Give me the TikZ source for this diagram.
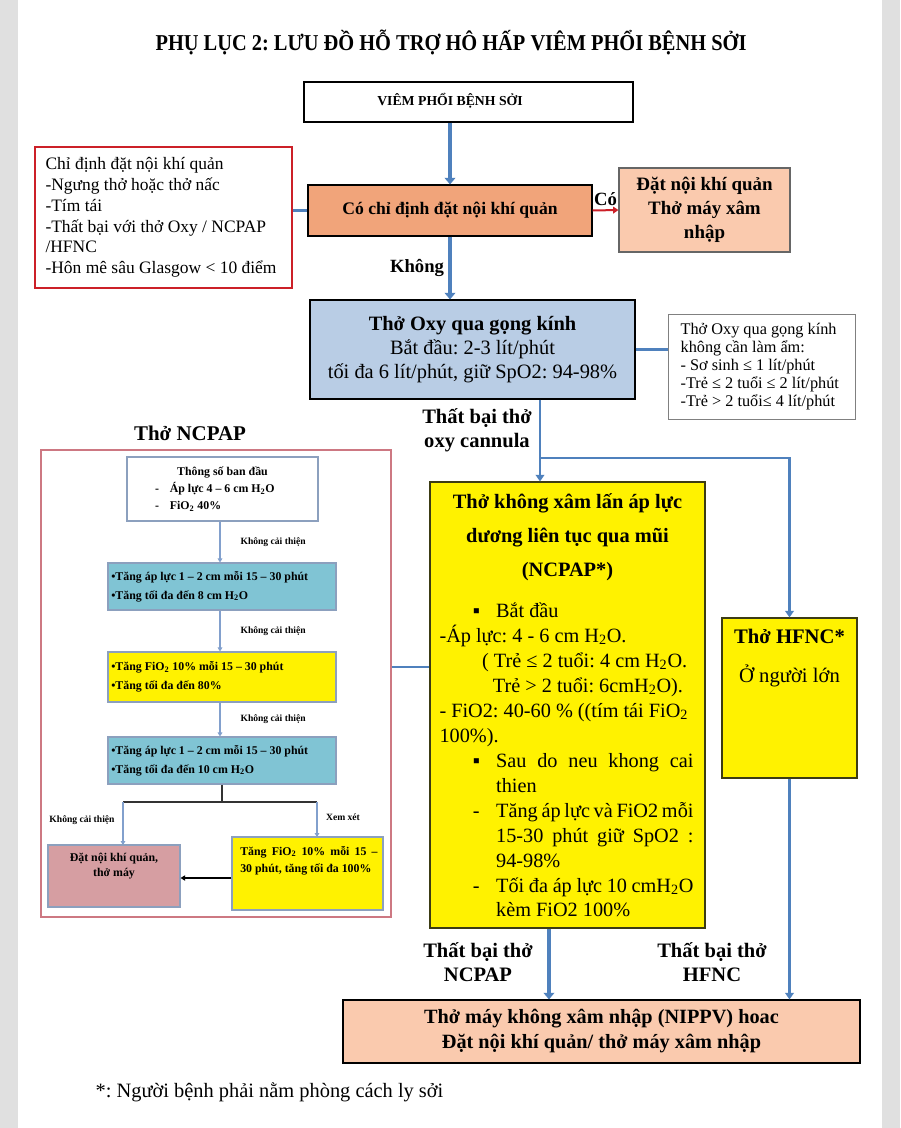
\documentclass[tikz,border=0pt]{standalone}
\usepackage{fontspec}
\usepackage{graphicx}
\setmainfont{Liberation Serif}
\usetikzlibrary{arrows.meta,positioning}
\definecolor{flowBlue}{RGB}{79,129,189}
\definecolor{tinyBlue}{RGB}{130,160,205}
\definecolor{boxOrange}{RGB}{241,164,122}
\definecolor{boxPeach}{RGB}{250,202,174}
\definecolor{boxSky}{RGB}{185,205,229}
\definecolor{boxTeal}{RGB}{128,196,212}
\definecolor{boxPink}{RGB}{214,158,162}
\definecolor{edgeRed}{RGB}{204,32,40}
\definecolor{edgeRose}{RGB}{205,120,130}
\definecolor{edgeSlate}{RGB}{140,160,190}
\definecolor{edgeOlive}{RGB}{60,60,20}
\definecolor{pageGray}{RGB}{224,224,224}
\newcommand{\fs}[2]{\fontsize{#1}{#2}\selectfont}
\newcommand{\subtxt}[1]{\textsubscript{#1}}
\newcommand{\fillline}[2]{\makebox[#1][s]{\spaceskip=0pt\xspaceskip=0pt\relax #2}}

\begin{document}
\frenchspacing
\begin{tikzpicture}[x=0.75pt,y=-0.75pt,
  font=\fs{13}{18},
  execute at begin node={\spaceskip=0pt\xspaceskip=0pt\relax},
  box/.style={draw=black,line width=0.8pt,inner sep=2pt,align=center},
  sbox/.style={draw=edgeSlate,line width=0.8pt,inner sep=2pt,align=left,font=\bfseries\fs{8.9}{14}},
  lbl/.style={font=\bfseries\fs{15.4}{18},text=black,align=center,inner sep=1pt},
  tiny/.style={font=\bfseries\fs{7.2}{8},text=black,inner sep=1pt},
  thickflow/.style={flowBlue,line width=3pt,-{Triangle[length=5pt,width=8pt]}},
  thinflow/.style={flowBlue,line width=1.8pt,-{Triangle[length=5pt,width=6.5pt]}},
  tinyflow/.style={tinyBlue,line width=0.8pt,-{Triangle[length=3pt,width=3.5pt]}},
]
\useasboundingbox (0,0) rectangle (900,1128);
\fill[pageGray] (0,0) rectangle (900,1128);
\fill[white] (18,0) rectangle (882,1128);

% title
\node[font=\bfseries\fs{17}{19}] (title) at (451,42) {\scalebox{0.9}[1]{PHỤ LỤC 2: LƯU ĐỒ HỖ TRỢ HÔ HẤP VIÊM PHỔI BỆNH SỞI}};

% top of the flow
\node[box,fill=white,minimum width=246.75pt,minimum height=30pt] (viem) at (468.5,102) {};
\node[font=\bfseries\fs{10.3}{11}] (viemtxt) at (450,101) {VIÊM PHỔI BỆNH SỞI};
\node[box,fill=boxOrange,minimum width=213pt,minimum height=38.25pt,font=\bfseries\fs{13.2}{15}] (chidinh) at (450,210.5) {Có chỉ định đặt nội khí quản};
\node[box,draw=black!60,fill=boxPeach,minimum width=128.25pt,minimum height=63pt,font=\bfseries\fs{14.2}{18}] (dnkq) at (704.5,210) {Đặt nội khí quản\\Thở máy xâm\\nhập};
\node[box,draw=edgeRed,line width=1.3pt,minimum width=192.75pt,minimum height=105.75pt,text width=177pt,align=left,font=\fs{13.1}{15.6}] (dieukien) at (163.5,217.5)
  {Chỉ định đặt nội khí quản\\-Ngưng thở hoặc thở nấc\\-Tím tái\\-Thất bại với thở Oxy / NCPAP\\/HFNC\\-Hôn mê sâu Glasgow < 10 điểm};

\draw[thickflow] (chidinh.north |- viem.south) -- (chidinh.north);
\draw[edgeRed,line width=1.5pt,-{Triangle[length=4pt,width=5pt]}] (chidinh.east) -- (dnkq.west) node[lbl,font=\bfseries\fs{14}{16},midway,above=2pt] (co) {Có};
\draw[flowBlue,line width=2.5pt] (dieukien.east |- chidinh.west) -- (chidinh.west);

% oxy
\node[box,fill=boxSky,minimum width=243.75pt,minimum height=74.25pt,font=\fs{15.3}{18}] (oxy) at (472.5,349.5)
  {\textbf{Thở Oxy qua gọng kính}\\Bắt đầu: 2-3 lít/phút\\tối đa 6 lít/phút, giữ SpO2: 94-98\%};
\draw[thickflow] (chidinh.south) -- (chidinh.south |- oxy.north) node[lbl,font=\bfseries\fs{14}{18},pos=0.5,left=2pt] (khong) {Không};
\node[box,draw=black!50,line width=0.6pt,minimum width=140.25pt,minimum height=78.75pt,text width=122pt,align=left,font=\fs{12.2}{13.5}] (khongam) at (762,367)
  {Thở Oxy qua gọng kính\\không cần làm ẩm:\\- Sơ sinh ≤ 1 lít/phút\\-Trẻ ≤ 2 tuổi ≤ 2 lít/phút\\-Trẻ > 2 tuổi≤ 4 lít/phút};
\draw[flowBlue,line width=2pt] (oxy.east) -- (oxy.east -| khongam.west);

% NCPAP and HFNC
\coordinate (tach) at (540,458);
\node[box,draw=edgeOlive,fill=yellow,minimum width=206.25pt,minimum height=334.5pt] (ncpap) at (567.5,705) {};
\node[anchor=north,text width=192pt,inner sep=0pt,align=left] (ncpaptxt) at (567.5,493) {%
  {\centering\bfseries\fs{15.3}{25.5}Thở không xâm lấn áp lực\\dương liên tục qua mũi\\(NCPAP*)\par}%
  \vspace{12pt}\fs{15.2}{18.75}%
  \hspace*{25pt}\makebox[17.5pt][l]{▪}Bắt đầu\\
  -Áp lực: 4 - 6 cm H\subtxt{2}O.\\
  \hspace*{32pt}( Trẻ ≤ 2 tuổi: 4 cm H\subtxt{2}O.\\
  \hspace*{40pt}Trẻ > 2 tuổi: 6cmH\subtxt{2}O).\\
  - FiO2: 40-60 \% ((tím tái FiO\subtxt{2}\\
  100\%).\\
  \hspace*{25pt}\makebox[17.5pt][l]{▪}\fillline{148pt}{Sau do neu khong cai}\\
  \hspace*{42.5pt}thien\\
  \hspace*{25pt}\makebox[17.5pt][l]{-}\fillline{148pt}{Tăng áp lực và FiO2 mỗi}\\
  \hspace*{42.5pt}\fillline{148pt}{15-30 phút giữ SpO2 :}\\
  \hspace*{42.5pt}94-98\%\\
  \hspace*{25pt}\makebox[17.5pt][l]{-}\fillline{148pt}{Tối đa áp lực 10 cmH\subtxt{2}O}\\
  \hspace*{42.5pt}kèm FiO2 100\%};
\node[box,draw=edgeOlive,fill=yellow,minimum width=101.25pt,minimum height=120pt] (hfnc) at (789.5,698) {};
\node[anchor=north,align=center,font=\fs{15.5}{29.25},inner sep=0pt] (hfnctxt) at (789.5,629) {\textbf{Thở HFNC*}\\Ở người lớn};

\draw[flowBlue,line width=2pt] (oxy.south -| tach) -- (tach);
\draw[thinflow] (tach) -- (tach |- ncpap.north);
\draw[thinflow] (tach) -| (hfnc.north);
\node[lbl] (thatbaioxy) at (477,430) {Thất bại thở\\oxy cannula};

% bottom
\node[box,fill=boxPeach,minimum width=387.75pt,minimum height=47.25pt,font=\bfseries\fs{15.2}{18.75}] (nippv) at (601.5,1031.5)
  {Thở máy không xâm nhập (NIPPV) hoac\\Đặt nội khí quản/ thở máy xâm nhập};
\draw[thickflow] ([xshift=-13.9pt]ncpap.south) -- ([xshift=-13.9pt]ncpap.south |- nippv.north);
\draw[thinflow] (hfnc.south) -- (hfnc.south |- nippv.north);
\node[lbl] (thatbaincpap) at (478,962) {Thất bại thở\\NCPAP};
\node[lbl] (thatbaihfnc) at (712,962) {Thất bại thở\\HFNC};
\node[anchor=west,font=\fs{15.3}{17}] (ghichu) at (91,1092) {*: Người bệnh phải nằm phòng cách ly sởi};

% NCPAP panel
\node[lbl,font=\bfseries\fs{15.7}{18}] (ncpaphead) at (190,433) {Thở NCPAP};
\node[draw=edgeRose,line width=0.8pt,minimum width=262.5pt,minimum height=350.25pt] (panel) at (216,683.5) {};
\draw[flowBlue,line width=2pt] (panel.east |- 0,667) -- (ncpap.west |- 0,667);

\node[sbox,fill=white,minimum width=143.25pt,minimum height=48pt,text width=139pt,font=\bfseries\fs{8.9}{13}] (init) at (222.5,489)
  {{\centering Thông số ban đầu\par}\hspace*{19pt}\makebox[11pt][l]{-}Áp lực 4 – 6 cm H\subtxt{2}O\\\hspace*{19pt}\makebox[11pt][l]{-}FiO\subtxt{2} 40\%};
\node[sbox,fill=boxTeal,minimum width=171pt,minimum height=35.25pt,text width=166pt] (tang1) at (222,586.5)
  {•Tăng áp lực 1 – 2 cm mỗi 15 – 30 phút\\•Tăng tối đa đến 8 cm H\subtxt{2}O};
\node[sbox,fill=yellow,minimum width=171pt,minimum height=37.5pt,text width=166pt] (tang2) at (222,677)
  {•Tăng FiO\subtxt{2} 10\% mỗi 15 – 30 phút\\•Tăng tối đa đến 80\%};
\node[sbox,fill=boxTeal,minimum width=171pt,minimum height=35.25pt,text width=166pt] (tang3) at (222,760.5)
  {•Tăng áp lực 1 – 2 cm mỗi 15 – 30 phút\\•Tăng tối đa đến 10 cm H\subtxt{2}O};
\node[sbox,fill=boxPink,minimum width=99pt,minimum height=46.5pt] (daynkq) at (114,876) {};
\node[anchor=north,align=center,font=\bfseries\fs{8.9}{11.5},inner sep=0pt] (daynkqtxt) at (114,853) {Đặt nội khí quản,\\thở máy};
\node[sbox,fill=yellow,minimum width=113.25pt,minimum height=54.75pt] (tang4) at (307.5,873.5) {};
\node[anchor=north west,align=left,font=\bfseries\fs{8.9}{12.75},inner sep=0pt] (tang4txt) at (240,846)
  {\fillline{103pt}{Tăng FiO\subtxt{2} 10\% mỗi 15 –}\\30 phút, tăng tối đa 100\%};

\draw[tinyflow] (init.south -| 220,0) -- (tang1.north -| 220,0) node[tiny,midway,right=14pt] (kct1) {Không cải thiện};
\draw[tinyflow] (tang1.south -| 220,0) -- (tang2.north -| 220,0) node[tiny,midway,right=14pt] (kct2) {Không cải thiện};
\draw[tinyflow] (tang2.south -| 220,0) -- (tang3.north -| 220,0) node[tiny,midway,right=14pt] (kct3) {Không cải thiện};
\coordinate (nhanh) at (222,802);
\draw[black!80,line width=0.9pt] (tang3.south -| nhanh) -- (nhanh);
\draw[black!80,line width=0.9pt] (123,802) -- (317,802);
\draw[tinyflow] (123,802) -- (123,845);
\draw[tinyflow] (317,802) -- (317,837);
\node[tiny] (kct4) at (82,820) {Không cải thiện};
\node[tiny] (xemxet) at (343,817) {Xem xét};
\draw[black,line width=1pt,-{Triangle[length=3.5pt,width=4pt]}] (tang4.west |- 0,878) -- (daynkq.east |- 0,878);
\end{tikzpicture}
\end{document}
